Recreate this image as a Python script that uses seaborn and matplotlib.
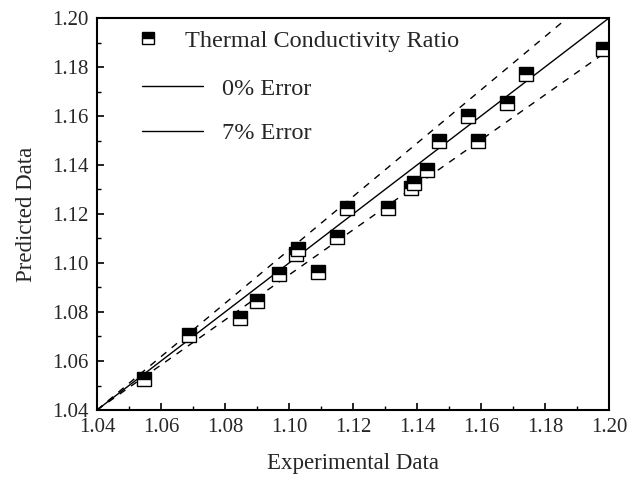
import matplotlib
matplotlib.use("Agg")
import matplotlib.pyplot as plt
from matplotlib.lines import Line2D
from matplotlib.ticker import MultipleLocator
import pandas as pd
import seaborn as sns

experimental = [1.0547, 1.0688, 1.0848, 1.0899, 1.0969, 1.1021, 1.1029, 1.1090,
                1.1149, 1.1180, 1.1310, 1.1380, 1.1390, 1.1430, 1.1470, 1.1560,
                1.1590, 1.1680, 1.1740, 1.1980]
predicted = [1.0525, 1.0705, 1.0775, 1.0845, 1.0955, 1.1037, 1.1056, 1.0965,
             1.1107, 1.1226, 1.1226, 1.1307, 1.1328, 1.1380, 1.1498, 1.1600,
             1.1500, 1.1652, 1.1771, 1.1872]
# error band lines (pivot at the lower-left corner)
line_x = [1.04, 1.20]
ideal_y = [1.04, 1.20]
upper_y = [1.04, 1.2142]
lower_y = [1.04, 1.1870]
ticks = [1.04, 1.06, 1.08, 1.10, 1.12, 1.14, 1.16, 1.18, 1.20]
marker_label = "Thermal Conductivity Ratio"
line_labels = ["0% Error", "7% Error"]

sns.set_style("white")
plt.rcParams['font.family'] = ['Liberation Serif', 'DejaVu Serif']

W, H = 643, 486
fig = plt.figure(figsize=(W/100, H/100), dpi=100)
ax = fig.add_axes([97/W, 1-410/H, (609-97)/W, (410-18)/H])

df = pd.DataFrame({"x": experimental, "y": predicted})
lines = pd.DataFrame({"x": line_x, "ideal": ideal_y, "up": upper_y, "lo": lower_y})

sns.lineplot(data=lines, x="x", y="ideal", ax=ax, color="black", lw=1.0,
             sort=False, estimator=None)
sns.lineplot(data=lines, x="x", y="up", ax=ax, color="black", lw=1.0,
             sort=False, estimator=None, linestyle=(0, (5, 5)))
sns.lineplot(data=lines, x="x", y="lo", ax=ax, color="black", lw=1.0,
             sort=False, estimator=None, linestyle=(0, (5, 5)))
sns.lineplot(data=df, x="x", y="y", ax=ax, sort=False, estimator=None,
             marker="s", linestyle="", markersize=10, fillstyle="top",
             markerfacecolor="black", markerfacecoloralt="white",
             markeredgecolor="black", markeredgewidth=1.0, color="black")

ax.set_xlim(1.04, 1.20)
ax.set_ylim(1.04, 1.20)
ax.set_xticks(ticks)
ax.set_yticks(ticks)
ax.set_xticklabels([f"{v:.2f}" for v in ticks])
ax.set_yticklabels([f"{v:.2f}" for v in ticks])
ax.xaxis.set_minor_locator(MultipleLocator(0.01))
ax.yaxis.set_minor_locator(MultipleLocator(0.01))
ax.tick_params(axis="both", which="major", direction="in", length=5, width=1.2,
               labelsize=15, color="black", bottom=True, left=True, pad=6)
ax.tick_params(axis="both", which="minor", direction="in", length=3, width=1.0,
               color="black", bottom=True, left=True)
for s in ax.spines.values():
    s.set_linewidth(1.5)
    s.set_color("black")
ax.set_xlabel("Experimental Data", fontsize=16.5, labelpad=11)
ax.set_ylabel("Predicted Data", fontsize=16.5, labelpad=11)

fs = 17.5
em = fs * 100 / 72  # pixels per em

h_marker = [Line2D([], [], marker="s", linestyle="", markersize=9, fillstyle="top",
                   markerfacecolor="black", markerfacecoloralt="white",
                   markeredgecolor="black", markeredgewidth=1.0)]
leg1 = ax.legend(h_marker, [marker_label], loc="center left", frameon=False,
                 fontsize=fs, handlelength=1.0, handletextpad=(185 - 136 - em) / em,
                 borderpad=0, borderaxespad=0,
                 bbox_to_anchor=(136/W, 1-41/H), bbox_transform=fig.transFigure)
ax.add_artist(leg1)

h_lines = [Line2D([], [], color="black", lw=1.0), Line2D([], [], color="black", lw=1.0)]
ax.legend(h_lines, line_labels, loc="center left", frameon=False, fontsize=fs,
          handlelength=61/em, handletextpad=19/em, borderpad=0, borderaxespad=0,
          labelspacing=0.92,
          bbox_to_anchor=(142/W, 1-111/H), bbox_transform=fig.transFigure)

fig.savefig("out.png", dpi=100)
